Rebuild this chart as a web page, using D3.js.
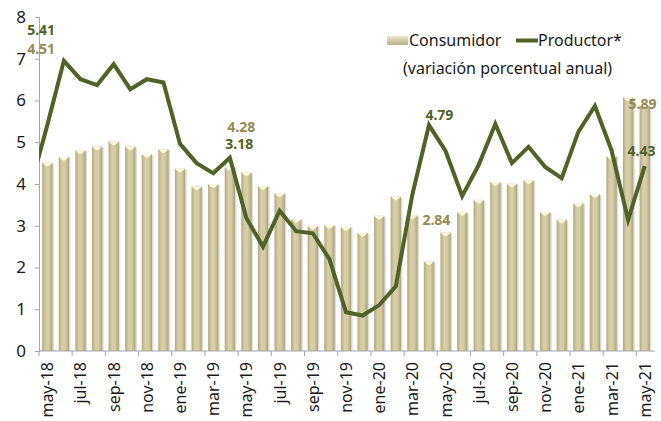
<!DOCTYPE html>
<html>
<head>
<meta charset="utf-8">
<script src="https://cdn.jsdelivr.net/npm/d3@7"></script>
<style>
  html, body { margin: 0; padding: 0; background: #fff; }
  svg { display: block; }
  text { font-family: "Noto Sans", "DejaVu Sans", sans-serif; }
</style>
</head>
<body>
<svg id="chart" width="661" height="421"></svg>
<script>
// ---- data ----
const months = ["may-18","jun-18","jul-18","ago-18","sep-18","oct-18","nov-18","dic-18",
  "ene-19","feb-19","mar-19","abr-19","may-19","jun-19","jul-19","ago-19","sep-19","oct-19","nov-19","dic-19",
  "ene-20","feb-20","mar-20","abr-20","may-20","jun-20","jul-20","ago-20","sep-20","oct-20","nov-20","dic-20",
  "ene-21","feb-21","mar-21","abr-21","may-21"];
const consumidor = [4.51,4.65,4.81,4.90,5.02,4.90,4.72,4.83,
  4.37,3.94,4.00,4.41,4.28,3.95,3.78,3.16,3.00,3.02,2.97,2.83,
  3.24,3.70,3.25,2.15,2.84,3.33,3.62,4.05,4.01,4.09,3.33,3.15,
  3.54,3.76,4.67,6.08,5.89];
const productor = [5.41,6.95,6.51,6.37,6.87,6.27,6.51,6.43,
  4.96,4.50,4.26,4.63,3.18,2.50,3.36,2.87,2.82,2.20,0.93,0.85,
  1.10,1.55,3.75,5.41,4.79,3.71,4.46,5.44,4.50,4.89,4.41,4.14,
  5.25,5.87,4.81,3.14,4.43];
const productorAbr18 = 3.95; // previous month, drawn clipped at the axis
const yTicks = [0,1,2,3,4,5,6,7,8];
const labelsConsumidor = [{m:"may-18", v:4.51},{m:"may-19", v:4.28},{m:"may-20", v:2.84},{m:"may-21", v:5.89}];
const labelsProductor = [{m:"may-18", v:5.41},{m:"may-19", v:3.18},{m:"may-20", v:4.79},{m:"may-21", v:4.43}];

// ---- setup ----
const svg = d3.select("#chart");
const pLeft = 39, pRight = 653, pTop = 17, pBottom = 351;
const x = d3.scaleBand().domain(months).range([pLeft, pRight]).paddingInner(0.38).paddingOuter(0.19);
const y = d3.scaleLinear().domain([0, 8]).range([pBottom, pTop]);
const step = x.step();

const green = "#4F6228";
const khaki = "#948A54";

const defs = svg.append("defs");
const g1 = defs.append("linearGradient").attr("id", "barGrad").attr("x1", "0").attr("x2", "1").attr("y1", "0").attr("y2", "0");
g1.append("stop").attr("offset", "0%").attr("stop-color", "#B3A97D");
g1.append("stop").attr("offset", "35%").attr("stop-color", "#D6CFA8");
g1.append("stop").attr("offset", "65%").attr("stop-color", "#D3CCA4");
g1.append("stop").attr("offset", "100%").attr("stop-color", "#ADA377");
const g2 = defs.append("linearGradient").attr("id", "legGrad").attr("x1", "0").attr("x2", "0").attr("y1", "0").attr("y2", "1");
g2.append("stop").attr("offset", "0%").attr("stop-color", "#EDE8CF");
g2.append("stop").attr("offset", "100%").attr("stop-color", "#B8AF86");
defs.append("clipPath").attr("id", "plotClip").append("rect")
  .attr("x", pLeft).attr("y", 0).attr("width", 661 - pLeft).attr("height", 421);

// ---- bars ----
const bars = svg.append("g");
const bw = x.bandwidth();
months.forEach((m, i) => {
  const bx = x(m), by = y(consumidor[i]), bh = y(0) - y(consumidor[i]);
  bars.append("rect").attr("x", bx + 1.5).attr("y", by + 1).attr("width", bw).attr("height", bh - 1)
    .attr("fill", "#9a9a9a").attr("opacity", 0.35);
  bars.append("rect").attr("x", bx).attr("y", by).attr("width", bw).attr("height", bh)
    .attr("fill", "url(#barGrad)");
  bars.append("path")
    .attr("d", `M${bx},${by} L${bx + bw},${by} L${bx + bw * 0.75},${by + 2.5} L${bx + bw / 2},${by + 4} L${bx + bw * 0.25},${by + 2.5} Z`)
    .attr("fill", "#FBF6DC");
});

// ---- axes ----
const yAxis = d3.axisLeft(y).tickValues(yTicks).tickSize(4).tickPadding(9).tickFormat(d3.format("d"));
const gy = svg.append("g").attr("transform", `translate(${pLeft},0)`).call(yAxis);
gy.select(".domain").attr("stroke", "#A6A6A6");
gy.selectAll(".tick line").attr("stroke", "#A6A6A6");
gy.selectAll(".tick text").attr("font-size", 17).attr("fill", "#1a1a1a").attr("font-family", "Noto Sans");

const gx = svg.append("g").attr("transform", `translate(0,${pBottom})`);
gx.append("line").attr("x1", pLeft).attr("x2", pRight + 2).attr("y1", 0).attr("y2", 0).attr("stroke", "#A6A6A6");
months.forEach((m, i) => {
  if (i % 2 === 0) {
    const tx = x(m) - (step - bw) / 2;
    gx.append("line").attr("x1", tx).attr("x2", tx).attr("y1", 0).attr("y2", 5).attr("stroke", "#A6A6A6");
    const cx = x(m) + bw / 2;
    gx.append("text")
      .attr("transform", `translate(${cx + 6},11) rotate(-90)`)
      .attr("text-anchor", "end")
      .attr("font-size", 16)
      .attr("fill", "#1a1a1a")
      .text(m);
  }
});

// ---- line ----
const linePts = [[x(months[0]) + bw / 2 - step, productorAbr18]].concat(
  months.map((m, i) => [x(m) + bw / 2, productor[i]]));
const line = d3.line().x(d => d[0]).y(d => y(d[1]));
svg.append("path").datum(linePts)
  .attr("clip-path", "url(#plotClip)")
  .attr("d", line)
  .attr("fill", "none").attr("stroke", green).attr("stroke-width", 4).attr("stroke-linejoin", "miter");

// ---- data labels ----
const lab = svg.append("g").attr("font-weight", "bold").attr("font-size", 14)
  .attr("font-family", "'Liberation Sans', Arial, sans-serif");
const offC = {"may-18": [-15, 54], "may-19": [-14, 132], "may-20": [-18, 225], "may-21": [-11, 109]};
const offP = {"may-18": [-15, 35], "may-19": [-16, 149], "may-20": [-15, 120], "may-21": [-12, 156]};
labelsConsumidor.forEach(d => {
  lab.append("text").attr("x", x(d.m) + offC[d.m][0]).attr("y", offC[d.m][1]).attr("fill", khaki).text(d.v.toFixed(2));
});
labelsProductor.forEach(d => {
  lab.append("text").attr("x", x(d.m) + offP[d.m][0]).attr("y", offP[d.m][1]).attr("fill", green).text(d.v.toFixed(2));
});

// ---- legend ----
const leg = svg.append("g");
leg.append("rect").attr("x", 387).attr("y", 36).attr("width", 21).attr("height", 9).attr("fill", "url(#legGrad)");
leg.append("text").attr("x", 409).attr("y", 46).attr("font-size", 16).attr("fill", "#1a1a1a").text("Consumidor");
leg.append("line").attr("x1", 516).attr("x2", 538).attr("y1", 40.5).attr("y2", 40.5).attr("stroke", green).attr("stroke-width", 4);
leg.append("text").attr("x", 538).attr("y", 46).attr("font-size", 16).attr("fill", "#1a1a1a").text("Productor*");
leg.append("text").attr("x", 403).attr("y", 74).attr("font-size", 16).attr("fill", "#1a1a1a").text("(variación porcentual anual)");
</script>
</body>
</html>
